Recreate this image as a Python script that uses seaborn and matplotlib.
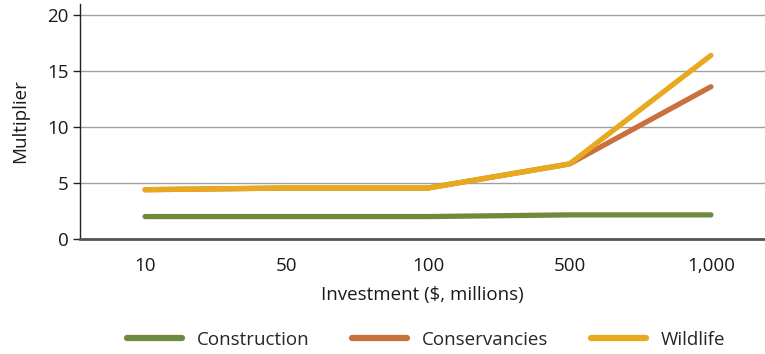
import matplotlib
matplotlib.use("Agg")
import matplotlib.pyplot as plt
import seaborn as sns
import pandas as pd
from matplotlib.lines import Line2D

investment = ["10", "50", "100", "500", "1,000"]
construction = [2.0, 2.0, 2.0, 2.15, 2.15]
conservancies = [4.4, 4.55, 4.55, 6.7, 13.6]
wildlife = [4.4, 4.55, 4.55, 6.7, 16.4]

series_names = ["Construction", "Conservancies", "Wildlife"]
palette = {"Construction": "#6e8b3d", "Conservancies": "#c9703f", "Wildlife": "#e9a91e"}

rows = []
for name, vals in zip(series_names, [construction, conservancies, wildlife]):
    for x, v in zip(investment, vals):
        rows.append({"Investment": x, "Multiplier": v, "Series": name})
df = pd.DataFrame(rows)

sns.set_theme(style="white")
plt.rcParams["font.family"] = ["Open Sans", "DejaVu Sans"]

fig = plt.figure(figsize=(7.65, 3.54), dpi=100)
ax = fig.add_axes([0.1046, 0.325, 0.895, 0.664])

sns.lineplot(data=df, x="Investment", y="Multiplier", hue="Series",
             hue_order=series_names, palette=palette, sort=False,
             linewidth=3.8, ax=ax, legend=False)
for line in ax.lines:
    line.set_solid_capstyle("round")
    line.set_solid_joinstyle("round")

ax.set_ylim(0, 21)
ax.set_xlim(-0.46, 4.38)
ax.set_yticks([0, 5, 10, 15, 20])
ax.yaxis.grid(True, color="#a0a0a0", linewidth=1.0)
ax.set_axisbelow(True)
for s in ["top", "right"]:
    ax.spines[s].set_visible(False)
ax.spines["left"].set_color("#222222")
ax.spines["left"].set_linewidth(1.0)
ax.spines["bottom"].set_color("#555555")
ax.spines["bottom"].set_linewidth(2.0)
ax.tick_params(axis="y", left=True, length=5, width=1, color="#222222",
               labelsize=13.5, labelcolor="#1a1a1a", pad=3)
ax.tick_params(axis="x", bottom=False, labelsize=13.5, labelcolor="#1a1a1a", pad=7)
ax.set_xlabel("Investment ($, millions)", fontsize=13.5, color="#1a1a1a", labelpad=8)
ax.set_ylabel("Multiplier", fontsize=13.5, color="#1a1a1a", labelpad=13)

handles = [Line2D([0], [0], color=palette[n], linewidth=4.5, solid_capstyle="round")
           for n in series_names]
fig.legend(handles, series_names, loc="center", bbox_to_anchor=(0.557, 0.04),
           ncol=3, frameon=False, fontsize=13.5, handlelength=2.9,
           columnspacing=2.3, handletextpad=0.8)

fig.savefig("out.png", dpi=100)
